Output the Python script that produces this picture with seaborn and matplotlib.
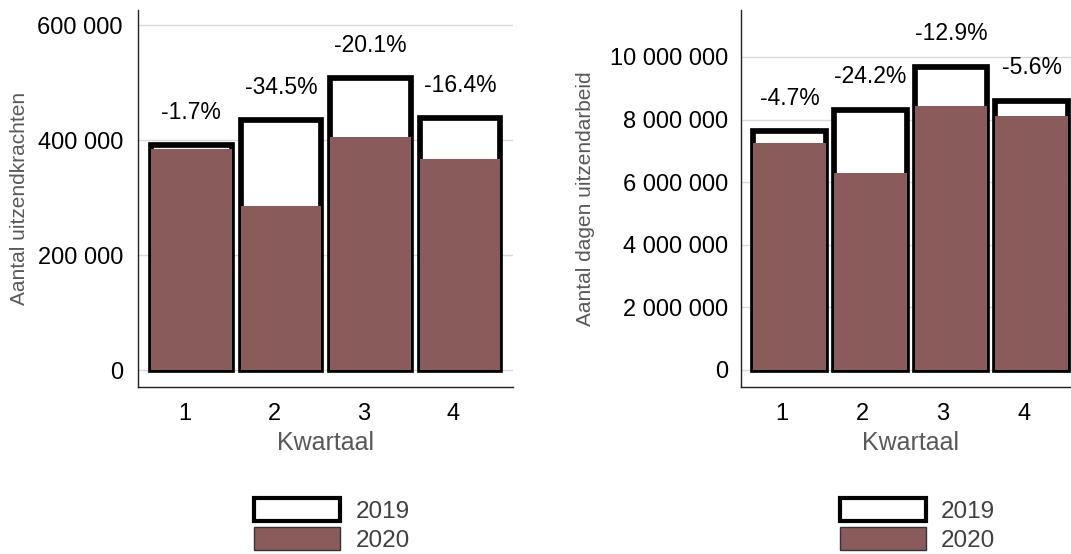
import numpy as np
import pandas as pd
import matplotlib
matplotlib.use("Agg")
import matplotlib.pyplot as plt
from matplotlib.patches import Patch
from matplotlib.ticker import FuncFormatter
import seaborn as sns

# ---- data ----
quarters = ["1", "2", "3", "4"]
workers_2019 = [392000, 435000, 508000, 439000]
workers_2020 = [385500, 285000, 406000, 367000]
workers_pct = ["-1.7%", "-34.5%", "-20.1%", "-16.4%"]

days_2019 = [7620000, 8320000, 9690000, 8600000]
days_2020 = [7260000, 6305000, 8440000, 8120000]
days_pct = ["-4.7%", "-24.2%", "-12.9%", "-5.6%"]

left_ticks = [0, 200000, 400000, 600000]
right_ticks = [0, 2000000, 4000000, 6000000, 8000000, 10000000]

BROWN = "#895B5B"

sns.set_style("white")
plt.rcParams["font.family"] = ["Liberation Sans", "DejaVu Sans"]

fig = plt.figure(figsize=(10.71, 5.54), dpi=100)
ax1 = fig.add_axes([0.1291, 0.302, 0.3501, 0.680])
ax2 = fig.add_axes([0.6916, 0.302, 0.3168, 0.680])

fmt = FuncFormatter(lambda v, p: f"{int(round(v)):,}".replace(",", " "))


def draw(ax, v19, v20, pct, yticks, ylim, xlim, tick_shift, ylabel, label_off, ypad):
    df = pd.DataFrame({"Kwartaal": quarters, "y2019": v19, "y2020": v20})
    sns.barplot(data=df, x="Kwartaal", y="y2019", color="white", edgecolor="black",
                linewidth=4.1, width=0.9, saturation=1, ax=ax, zorder=2)
    sns.barplot(data=df, x="Kwartaal", y="y2020", color=BROWN, linewidth=0,
                width=0.9, saturation=1, ax=ax, zorder=3)
    for i, (v, t) in enumerate(zip(v19, pct)):
        ax.annotate(t, (i, v), xytext=(0, label_off), textcoords="offset points",
                    ha="center", va="center", fontsize=16.5, color="black")
    ax.set_ylim(*ylim)
    ax.set_xlim(*xlim)
    ax.set_yticks(yticks)
    ax.yaxis.set_major_formatter(fmt)
    ax.set_xticks(np.arange(len(quarters)) - tick_shift, labels=quarters)
    ax.grid(axis="y", color="#D9D9D9", linewidth=1.0, zorder=0)
    ax.grid(axis="x", visible=False)
    ax.set_axisbelow(True)
    for s in ["top", "right"]:
        ax.spines[s].set_visible(False)
    for s in ["left", "bottom"]:
        ax.spines[s].set_color("#222222")
        ax.spines[s].set_linewidth(1.0)
    ax.tick_params(axis="y", length=0, pad=ypad, labelsize=17, labelcolor="black")
    ax.tick_params(axis="x", length=0, pad=12, labelsize=17, labelcolor="black")
    ax.set_xlabel("Kwartaal", fontsize=18, color="#595959", labelpad=4)
    ax.set_ylabel(ylabel, fontsize=15, color="#595959", va="center")


draw(ax1, workers_2019, workers_2020, workers_pct, left_ticks, (-29000, 626600),
     (-0.5915, 3.594), 0.075, "Aantal uitzendkrachten", 23.4, 11)
ax1.yaxis.set_label_coords(-0.318, 0.5)

draw(ax2, days_2019, days_2020, days_pct, right_ticks, (-533500, 11500000),
     (-0.605, 3.6), 0.097, "Aantal dagen uitzendarbeid", 24.0, 9)
ax2.yaxis.set_label_coords(-0.458, 0.5)

handles = [Patch(facecolor="white", edgecolor="black", linewidth=3.0, label="2019"),
           Patch(facecolor=BROWN, edgecolor="#333333", linewidth=1.0, label="2020")]

for cx in (0.310, 0.8567):
    leg = fig.legend(handles=handles, loc="upper center", bbox_to_anchor=(cx, 0.1015),
                     frameon=False, fontsize=17.5, handlelength=3.55, handleheight=1.1,
                     handletextpad=0.62, labelspacing=0.17, borderpad=0,
                     borderaxespad=0)
    for t in leg.get_texts():
        t.set_color("#404040")

fig.savefig("out.png", dpi=100)
